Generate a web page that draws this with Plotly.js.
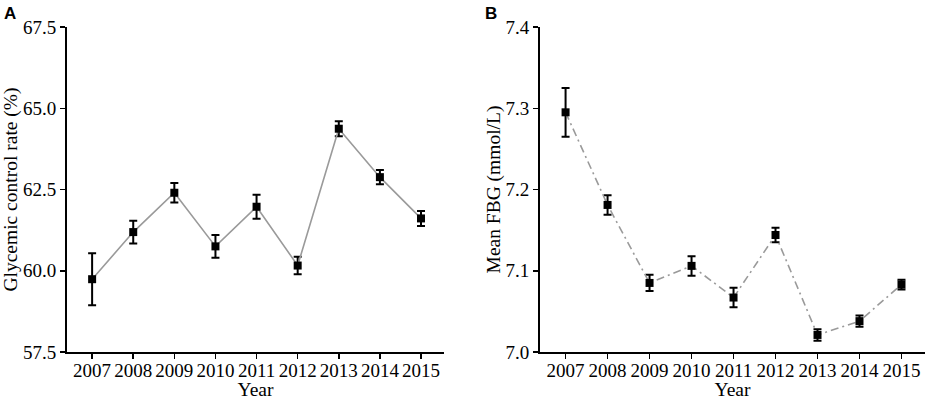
<!DOCTYPE html>
<html>
<head>
<meta charset="utf-8">
<script src="https://cdn.plot.ly/plotly-3.0.1.min.js"></script>
<style>html,body{margin:0;padding:0;background:#fff;}#chart{width:935px;height:400px;}</style>
</head>
<body>
<div id="chart"></div>
<script>
// Data
const years = [2007, 2008, 2009, 2010, 2011, 2012, 2013, 2014, 2015];
const controlRate = [59.74, 61.19, 62.40, 60.75, 61.97, 60.16, 64.37, 62.88, 61.61];
const controlRateErr = [0.80, 0.35, 0.30, 0.35, 0.37, 0.27, 0.23, 0.22, 0.23];
const meanFBG = [7.295, 7.181, 7.085, 7.106, 7.067, 7.144, 7.021, 7.038, 7.083];
const meanFBGErr = [0.030, 0.012, 0.010, 0.012, 0.012, 0.009, 0.007, 0.007, 0.006];
const yTicksA = [57.5, 60.0, 62.5, 65.0, 67.5];
const yTicksB = [7.0, 7.1, 7.2, 7.3, 7.4];

const serif = "Liberation Serif, Times New Roman, serif";
const tickFont = {family: serif, size: 19, color: "#000"};
const titleFont = {family: serif, size: 19.5, color: "#000"};
const xRange = [2006.39, 2015.56];

const traceA = {
  x: years, y: controlRate, xaxis: "x", yaxis: "y",
  type: "scatter", mode: "lines+markers",
  line: {color: "#9a9a9a", width: 1.6},
  marker: {symbol: "square", size: 8, color: "#000"},
  error_y: {type: "data", array: controlRateErr, visible: true, color: "#000", thickness: 2, width: 4},
  showlegend: false
};
const traceB = {
  x: years, y: meanFBG, xaxis: "x2", yaxis: "y2",
  type: "scatter", mode: "lines+markers",
  line: {color: "#9a9a9a", width: 1.6, dash: "8px,4px,2px,4px"},
  marker: {symbol: "square", size: 8, color: "#000"},
  error_y: {type: "data", array: meanFBGErr, visible: true, color: "#000", thickness: 2, width: 4},
  showlegend: false
};

function xAxis(domain, anchor) {
  return {
    domain: domain, anchor: anchor, range: xRange,
    tickvals: years, ticktext: years.map(String), tickangle: 0,
    showline: true, linewidth: 2, linecolor: "#000",
    ticks: "outside", ticklen: 5, tickwidth: 1.5, tickcolor: "#000",
    ticklabelstandoff: -5,
    showgrid: false, zeroline: false, tickfont: tickFont,
    title: {text: "Year", font: titleFont, standoff: 0}
  };
}
function yAxis(range, ticks, title, anchor) {
  return {
    domain: [0.12, 0.9325], anchor: anchor, range: range,
    tickvals: ticks, ticktext: ticks.map(v => v.toFixed(1)),
    showline: true, linewidth: 2, linecolor: "#000",
    ticks: "outside", ticklen: 5, tickwidth: 1.5, tickcolor: "#000",
    showgrid: false, zeroline: false, tickfont: tickFont,
    title: {text: title, font: titleFont, standoff: 0}
  };
}

const layout = {
  width: 935, height: 400,
  margin: {l: 0, r: 0, t: 0, b: 0},
  paper_bgcolor: "#fff", plot_bgcolor: "#fff",
  xaxis: xAxis([0.0717, 0.4749], "y"),
  yaxis: yAxis([57.5, 67.5], yTicksA, "Glycemic control rate (%)", "x"),
  xaxis2: xAxis([0.5775, 0.9893], "y2"),
  yaxis2: yAxis([7.0, 7.4], yTicksB, "Mean FBG (mmol/L)", "x2"),
  annotations: [
    {text: "<b>A</b>", xref: "paper", yref: "paper", x: 2/935, y: 1 - 2/400, xanchor: "left", yanchor: "top",
     showarrow: false, font: {family: "Liberation Sans, Arial, sans-serif", size: 17, color: "#000"}},
    {text: "<b>B</b>", xref: "paper", yref: "paper", x: 483/935, y: 1 - 2/400, xanchor: "left", yanchor: "top",
     showarrow: false, font: {family: "Liberation Sans, Arial, sans-serif", size: 17, color: "#000"}}
  ]
};

Plotly.newPlot("chart", [traceA, traceB], layout, {displayModeBar: false, staticPlot: true});
</script>
</body>
</html>
